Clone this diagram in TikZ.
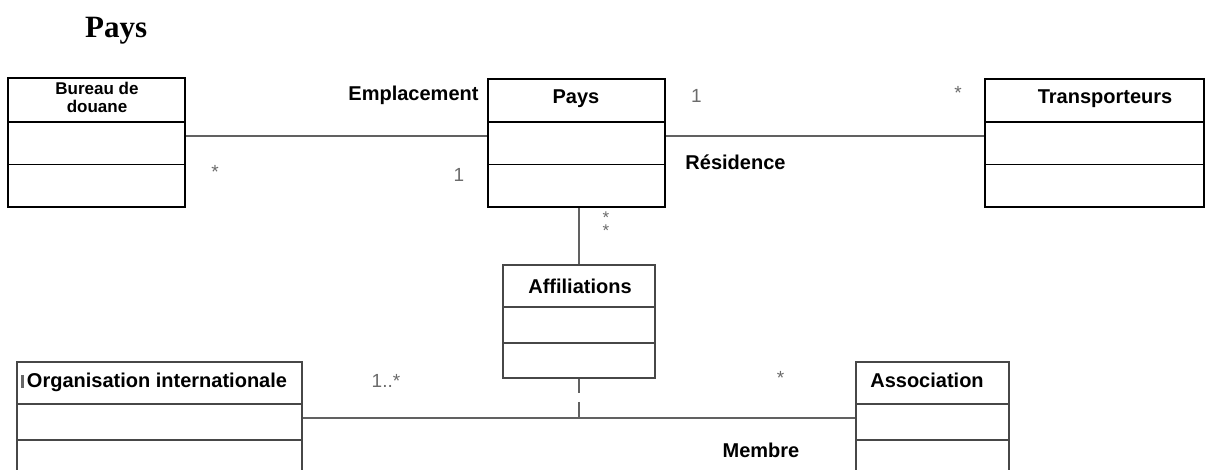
\documentclass[tikz,border=0pt]{standalone}
\usepackage{fontspec}
\setmainfont{Liberation Sans}
\newfontfamily\titlefont{Liberation Serif}
\usetikzlibrary{calc}
\begin{document}
\begin{tikzpicture}[x=1pt,y=-1pt,
  box/.style={draw=black, line width=1.6pt, rectangle, inner sep=0pt},
  greybox/.style={box, draw=black!72},
  divider/.style={draw=black, line width=1.6pt},
  greydivider/.style={draw=black!72, line width=1.6pt},
  cname/.style={font=\bfseries\fontsize{20}{22}\selectfont, inner sep=0pt, anchor=base},
  smallname/.style={font=\bfseries\fontsize{17}{18}\selectfont, inner sep=0pt, anchor=base},
  rolename/.style={font=\bfseries\fontsize{20}{22}\selectfont, inner sep=0pt, anchor=base},
  mult/.style={font=\fontsize{19}{20}\selectfont, text=black!58, inner sep=0pt, anchor=base},
  assoc/.style={draw=black!62, line width=1.8pt},
]
\useasboundingbox (0,0) rectangle (1213,470);
\clip (0,0) rectangle (1213,470);

% title
\node[font=\titlefont\bfseries\fontsize{31}{34}\selectfont, anchor=base west, inner sep=0pt] (title) at (85,38) {Pays};

% class boxes
\node[box, minimum width=177pt, minimum height=129pt] (bureau) at (96.5,142.5) {};
\node[box, minimum width=177pt, minimum height=128pt] (pays) at (576.5,143) {};
\node[box, minimum width=219pt, minimum height=128pt] (trans) at (1094.5,143) {};
\node[greybox, minimum width=152pt, minimum height=113pt] (affil) at (579,321.5) {};
\node[greybox, minimum width=285pt, minimum height=128pt] (org) at (159.5,426) {};
\node[greybox, minimum width=153pt, minimum height=128pt] (assoc) at (932.5,426) {};

% compartments
\foreach \n in {bureau,pays,trans}{
  \draw[divider] (\n.west |- 0,122) -- (\n.east |- 0,122);
  \draw[divider] (\n.west |- 0,164.5) -- (\n.east |- 0,164.5);
}
\draw[greydivider] (affil.west |- 0,307) -- (affil.east |- 0,307);
\draw[greydivider] (affil.west |- 0,343) -- (affil.east |- 0,343);
\foreach \n in {org,assoc}{
  \draw[greydivider] (\n.west |- 0,404) -- (\n.east |- 0,404);
  \draw[greydivider] (\n.west |- 0,440) -- (\n.east |- 0,440);
}

% class names
\node[smallname] (bureauname1) at (97,95) {Bureau de};
\node[smallname] (bureauname2) at (97,113) {douane};
\node[cname] (paysname) at (576,104) {Pays};
\node[cname] (transname) at (1105,104) {Transporteurs};
\node[cname] (affilname) at (580,294) {Affiliations};
\node[cname] (orgname) at (157,387) {Organisation internationale};
\node[cname] (assocname) at (927,387) {Association};
\fill[black!60] (20.5,375) rectangle (23.5,388);

% connectors
\draw[assoc] ([yshift=6.5pt]bureau.east) -- ([yshift=6.5pt]bureau.east -| pays.west);
\draw[assoc] ([yshift=7pt]pays.east) -- ([yshift=7pt]pays.east -| trans.west);
\draw[assoc] (affil.north) -- (affil.north |- pays.south);
\draw[assoc] ([yshift=8pt]org.east) -- ([yshift=8pt]org.east -| assoc.west);
\coordinate (join) at ([yshift=8pt]org.east -| affil.south);
\draw[assoc, line width=1.4pt, dash pattern=on 14pt off 9pt on 30pt] (affil.south) -- (join);

% role names
\node[rolename] (emplacement) at (413.5,101) {Emplacement};
\node[rolename] (residence) at (735.5,170) {Résidence};
\node[rolename] (membre) at (761,457) {Membre};

% multiplicities
\node[mult] (m1) at (215,179) {*};
\node[mult] (m2) at (459,182) {1};
\node[mult] (m3) at (696.5,103) {1};
\node[mult] (m4) at (958,100) {*};
\node[mult, anchor=center, align=center, font=\fontsize{17}{11}\selectfont] (m5) at (606,224) {*\\*};
\node[mult] (m7) at (386,387) {1..*};
\node[mult] (m8) at (780.5,384) {*};
\end{tikzpicture}
\end{document}
